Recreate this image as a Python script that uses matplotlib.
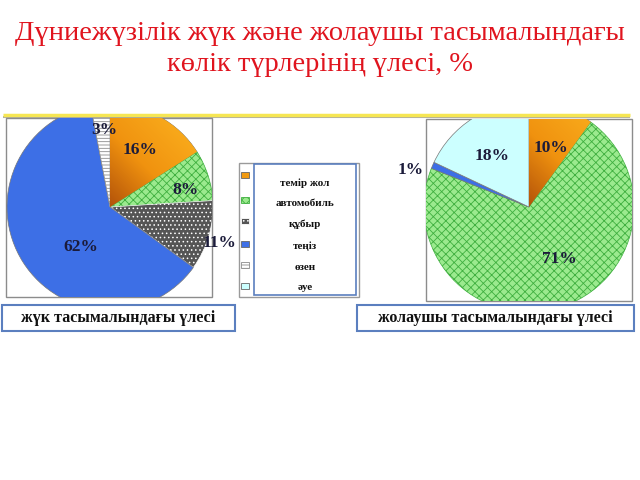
import matplotlib
matplotlib.use("Agg")
import matplotlib.pyplot as plt
import numpy as np
from matplotlib.patches import Rectangle

plt.rcParams['font.family'] = ['Liberation Serif', 'DejaVu Serif']
plt.rcParams['hatch.linewidth'] = 0.6

# Данные
categories = ["темір жол", "автомобиль", "құбыр", "теңіз", "өзен", "әуе"]
cargo_share = [16, 8, 11, 62, 3, 0]        # жүк тасымалындағы үлесі
passenger_share = [10, 71, 0, 1, 0, 18]    # жолаушы тасымалындағы үлесі

title = "Дүниежүзілік жүк және жолаушы тасымалындағы\nкөлік түрлерінің үлесі, %"
cargo_caption = "жүк тасымалындағы үлесі"
passenger_caption = "жолаушы тасымалындағы үлесі"

colors = ['#F29A10', '#9BEA8E', '#555555', '#3D6FE6', 'white', '#CCFFFF']
hatches = [None, 'xxxx', '....', None, '-----', None]
hatch_cols = ['#8a8a8a', '#3FAF3F', 'white', '#8a8a8a', '#8c8c8c', '#8a8a8a']

# label distance (in radii) and angle nudge (deg) per wedge
cargo_lab = [(0.63, 1), (0.75, -5), (1.12, -2), (0.48, 22), (0.75, -1), (0, 0)]
pass_lab = [(0.6, -2), (0.57, 14), (0, 0), (1.18, 6), (0, 0), (0.6, 4)]

fig = plt.figure(figsize=(6.4, 4.8), dpi=100)
bg = fig.add_axes([0, 0, 1, 1])
bg.set_xlim(0, 640)
bg.set_ylim(480, 0)
bg.axis('off')

def px_axes(x0, y0, x1, y1):
    return fig.add_axes([x0 / 640, 1 - y1 / 480, (x1 - x0) / 640, (y1 - y0) / 480])

def draw_pie(frame, center, r, values, lab):
    x0, y0, x1, y1 = frame
    cx, cy = center
    ax = px_axes(x0, y0, x1, y1)
    vals = [v for v in values if v > 0]
    idx = [i for i, v in enumerate(values) if v > 0]
    wedges, _ = ax.pie(vals, startangle=90, counterclock=False,
                       colors=[colors[i] for i in idx],
                       wedgeprops=dict(linewidth=0.5, edgecolor='#777777'))
    for w, i in zip(wedges, idx):
        w.set_clip_on(True)
        if hatches[i]:
            w.set_hatch(hatches[i])
            w.set_edgecolor(hatch_cols[i])
    # gradient on the orange wedge
    w0 = wedges[0]
    gx, gy = np.meshgrid(np.linspace(-1, 1, 200), np.linspace(-1, 1, 200))
    g = np.clip((gx + gy) * 0.5 + 0.3, 0, 1)
    cmap = matplotlib.colors.LinearSegmentedColormap.from_list(
        'og', ['#6A3004', '#B8580A', '#F0920F', '#F8A81A'])
    im = ax.imshow(g, cmap=cmap, extent=(-1, 1, -1, 1), origin='lower', zorder=1.5)
    im.set_clip_path(w0)
    ax.set_aspect('auto')
    ax.set_xlim((x0 - cx) / r, (x1 - cx) / r)
    ax.set_ylim((cy - y1) / r, (cy - y0) / r)
    ax.axis('off')
    bg.add_patch(Rectangle((x0, y0), x1 - x0, y1 - y0, fill=False,
                           edgecolor='#8c8c8c', lw=1, zorder=5))
    for w, i in zip(wedges, idx):
        d, nudge = lab[i]
        ang = np.deg2rad((w.theta1 + w.theta2) / 2 + nudge)
        tx = cx + d * r * np.cos(ang)
        ty = cy - d * r * np.sin(ang)
        fig.text(tx / 640, 1 - ty / 480, f"{values[i]}%", ha='center', va='center',
                 fontsize=12.5, fontweight='bold', color='#1b1b3a', zorder=10)

fig.text(0.5, 1 - 49 / 480, title, ha='center', va='center', fontsize=20.5,
         color='#E0141E', linespacing=1.3)

# yellow rule with shadow
bg.plot([3, 630], [116.5, 116.5], color='#A8A8A8', lw=1.5, solid_capstyle='butt')
bg.plot([3, 630], [114.5, 114.5], color='#F6E653', lw=2.5, solid_capstyle='butt')

draw_pie((6, 118, 212, 297), (110, 207), 103, cargo_share, cargo_lab)
draw_pie((426, 119, 632, 301), (529, 207), 105, passenger_share, pass_lab)

# legend
bg.add_patch(Rectangle((239, 163), 120, 134, fill=False, edgecolor='#9a9a9a', lw=1))
bg.add_patch(Rectangle((254, 164), 102, 131, facecolor='white', edgecolor='#5B7FBF', lw=1.2))
text_y = [183, 203, 224, 246, 267, 287]
mark_y = [175, 200, 221, 244, 265, 286]
for i, name in enumerate(categories):
    bg.add_patch(Rectangle((241, mark_y[i] - 3), 8, 6, facecolor=colors[i],
                           hatch=hatches[i], edgecolor=hatch_cols[i] if hatches[i] else '#666666',
                           lw=0.6))
    bg.text(305, text_y[i], name, ha='center', va='center', fontsize=8,
            fontweight='bold', color='#111111')

# caption boxes
for (x0, x1), cap in [((2, 235), cargo_caption), ((357, 634), passenger_caption)]:
    bg.add_patch(Rectangle((x0, 305), x1 - x0, 26, facecolor='white',
                           edgecolor='#5B7FBF', lw=1.5))
    bg.text((x0 + x1) / 2, 318.5, cap, ha='center', va='center', fontsize=11.5,
            fontweight='bold', color='#111111')

fig.savefig("out.png", dpi=100)
